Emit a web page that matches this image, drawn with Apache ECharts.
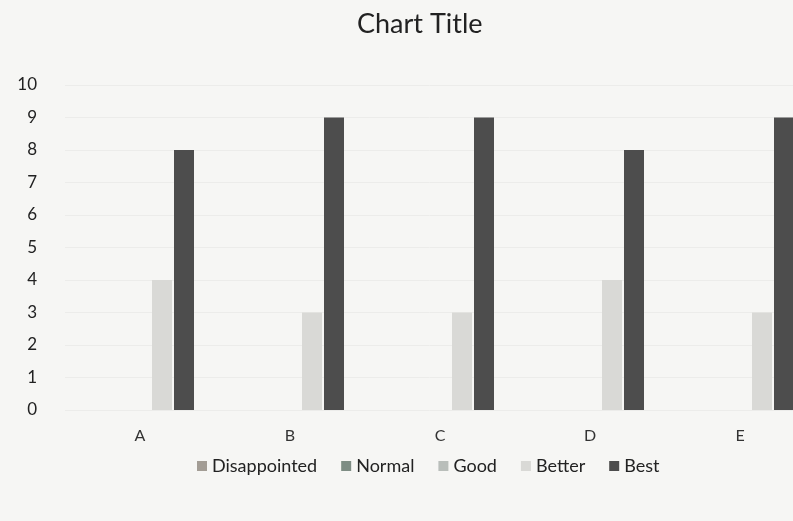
<!DOCTYPE html>
<html>
<head>
<meta charset="utf-8">
<script src="https://cdn.jsdelivr.net/npm/echarts@6/dist/echarts.min.js"></script>
<style>
html,body{margin:0;padding:0;background:#f6f6f4;}
#c{width:793px;height:521px;}
</style>
</head>
<body>
<div id="c"></div>
<script>
const categories = ['A', 'B', 'C', 'D', 'E'];
const seriesNames = ['Disappointed', 'Normal', 'Good', 'Better', 'Best'];
const disappointed = [0, 0, 0, 0, 0];
const normal = [0, 0, 0, 0, 0];
const good = [0, 0, 0, 0, 0];
const better = [4, 3, 3, 4, 3];
const best = [8, 9, 9, 8, 9];
const yTicks = [0, 10];

const colors = ['#a39d95', '#7e8d84', '#b9beba', '#d9d9d6', '#4d4d4d'];
const values = [disappointed, normal, good, better, best];

const chart = echarts.init(document.getElementById('c'));
chart.setOption({
  backgroundColor: '#f6f6f4',
  animation: false,
  color: colors,
  title: {
    text: 'Chart Title',
    left: 352,
    top: 6,
    textStyle: { fontFamily: 'Lato', fontSize: 27, fontWeight: 'normal', color: '#222' }
  },
  legend: {
    data: seriesNames,
    left: 192,
    top: 452,
    itemWidth: 10,
    itemHeight: 10,
    itemGap: 24,
    icon: 'rect',
    textStyle: { fontFamily: 'Lato', fontSize: 18, color: '#222' }
  },
  grid: { left: 65, top: 85, width: 750, bottom: 111, outerBoundsMode: 'none', containLabel: false },
  xAxis: {
    type: 'category',
    data: categories,
    axisLine: { show: false },
    axisTick: { show: false },
    axisLabel: { fontFamily: 'Lato', fontSize: 16, color: '#333', margin: 18 }
  },
  yAxis: {
    type: 'value',
    min: yTicks[0],
    max: yTicks[1],
    interval: 1,
    axisLine: { show: false },
    axisTick: { show: false },
    axisLabel: { fontFamily: 'Lato', fontSize: 17, color: '#222', margin: 28 },
    splitLine: { lineStyle: { color: '#ececea', width: 1 } }
  },
  series: seriesNames.map((n, i) => ({
    name: n,
    type: 'bar',
    data: values[i],
    barWidth: 20,
    barGap: '10%'
  }))
});
</script>
</body>
</html>
